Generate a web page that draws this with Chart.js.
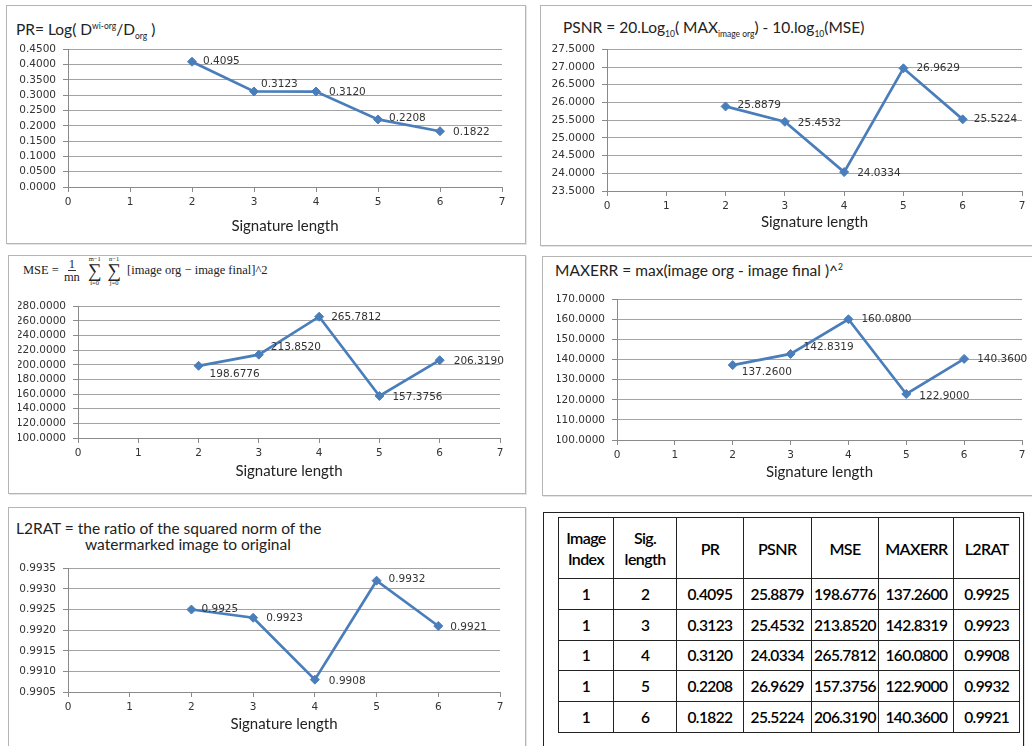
<!DOCTYPE html>
<html>
<head>
<meta charset="utf-8">
<script src="https://cdn.jsdelivr.net/npm/chart.js@4.4.0/dist/chart.umd.min.js"></script>
<style>
  body { margin: 0; width: 1032px; height: 746px; background: #fff; position: relative; overflow: hidden; font-family: Lato, "Open Sans", sans-serif; color: #222; }
  .panel { position: absolute; border: 1px solid #b5b5b5; box-sizing: border-box; background: #fff; box-shadow: 1px 1px 0 #e4e4e4; }
  .box { position: absolute; }
  .ttl { position: absolute; font-size: 15.5px; line-height: 16px; white-space: nowrap; color: #222; }
  .ttl sub, .ttl sup { font-size: 8.5px; line-height: 0; }
  .formula { position: absolute; font-family: "Liberation Serif", serif; font-size: 12.5px; color: #222; display: flex; align-items: center; white-space: nowrap; }
  .frac { display: inline-flex; flex-direction: column; align-items: center; margin: 0 5px; line-height: 12px; }
  .frac span:first-child { border-bottom: 1px solid #333; padding: 0 1px; }
  .sum { display: inline-flex; flex-direction: column; align-items: center; margin: 0 3px; line-height: 7px; }
  .sum small { font-size: 6.5px; }
  .sum b { font-weight: normal; font-size: 19px; line-height: 17px; }
  table { position: absolute; border-collapse: collapse; font-family: Lato, sans-serif; font-size: 15.5px; letter-spacing: -0.6px; color: #000; }
  td, th { border: 1.5px solid #222; text-align: center; padding: 0; font-weight: 600; }
  th { font-weight: 600; font-size: 16px; line-height: 21px; }
</style>
</head>
<body>

<div class="panel" style="left:6px; top:5px; width:520px; height:239px;"></div>
<div class="panel" style="left:540px; top:5px; width:500px; height:241px;"></div>
<div class="panel" style="left:8px; top:255px; width:518px; height:239px;"></div>
<div class="panel" style="left:542px; top:256px; width:500px; height:240px;"></div>
<div class="panel" style="left:8px; top:507px; width:518px; height:250px;"></div>
<div class="panel" style="left:543px; top:512px; width:481px; height:250px; border-color:#222;"></div>

<div class="ttl" style="left:16px; top:21px;">PR= Log( D<sup>wi-org</sup>/D<sub>org</sub> )</div>
<div class="ttl" style="left:563px; top:19px;">PSNR = 20.Log<sub>10</sub>( MAX<sub>image org</sub>) - 10.log<sub>10</sub>(MSE)</div>
<div class="formula" style="left:23px; top:256px; height:28px;">
  MSE =
  <span class="frac"><span>1</span><span>mn</span></span>
  <span class="sum"><small>m−1</small><b>∑</b><small>i=0</small></span>
  <span class="sum"><small>n−1</small><b>∑</b><small>j=0</small></span>
  &nbsp;[image org − image final]^2
</div>
<div class="ttl" style="left:555px; top:262px;">MAXERR = max(image org - image final )^<sup>2</sup></div>
<div class="ttl" style="left:16px; top:520px;">L2RAT = the ratio of the squared norm of the</div>
<div class="ttl" style="left:85px; top:536px;">watermarked image to original</div>

<table id="tbl" style="left:558px; top:517px; width:462px; height:216px;"></table>

<script>
// data
const imageIndex = [1, 1, 1, 1, 1];
const sigLength = [2, 3, 4, 5, 6];
const prValues = [0.4095, 0.3123, 0.3120, 0.2208, 0.1822];
const psnrValues = [25.8879, 25.4532, 24.0334, 26.9629, 25.5224];
const mseValues = [198.6776, 213.8520, 265.7812, 157.3756, 206.3190];
const maxerrValues = [137.2600, 142.8319, 160.0800, 122.9000, 140.3600];
const l2ratValues = [0.9925, 0.9923, 0.9908, 0.9932, 0.9921];
const xTicks = [0, 1, 2, 3, 4, 5, 6, 7];

const tickFont = { family: 'DejaVu Sans', size: 10.5 };
const lineColor = '#4a7ebb';

// labels next to each point
const pointLabels = {
  id: 'pointLabels',
  afterDatasetsDraw(chart, args, opts) {
    const ctx = chart.ctx;
    const meta = chart.getDatasetMeta(0);
    const data = chart.data.datasets[0].data;
    ctx.save();
    ctx.font = '10.5px "DejaVu Sans"';
    ctx.fillStyle = '#333';
    ctx.textBaseline = 'middle';
    ctx.textAlign = 'left';
    meta.data.forEach((pt, i) => {
      const off = opts.offsets[i] || [12, 0];
      ctx.fillText(data[i].y.toFixed(4), pt.x + off[0], pt.y + off[1]);
    });
    ctx.restore();
  }
};

function makeChart(plot, xH, values, yMin, yMax, yStep, offsets) {
  const yW = 60, padT = 10, padR = 10;
  const left = plot.l - yW, top = plot.t - padT;
  const box = document.createElement('div');
  box.className = 'box';
  box.style.left = left + 'px';
  box.style.top = top + 'px';
  box.style.width = (plot.r + padR - left) + 'px';
  box.style.height = (plot.b + xH - top) + 'px';
  const canvas = document.createElement('canvas');
  box.appendChild(canvas);
  document.body.appendChild(box);

  return new Chart(canvas, {
    type: 'line',
    data: {
      datasets: [{
        data: sigLength.map((x, i) => ({ x: x, y: values[i] })),
        borderColor: lineColor,
        backgroundColor: lineColor,
        borderWidth: 2.7,
        pointStyle: 'rectRot',
        pointRadius: 4.5,
        pointBorderWidth: 1,
        tension: 0
      }]
    },
    options: {
      responsive: true,
      maintainAspectRatio: false,
      animation: false,
      layout: { padding: { top: padT, right: padR, left: 0, bottom: 0 } },
      plugins: {
        legend: { display: false },
        tooltip: { enabled: false },
        pointLabels: { offsets: offsets }
      },
      scales: {
        x: {
          type: 'linear',
          min: xTicks[0],
          max: xTicks[xTicks.length - 1],
          afterBuildTicks: (scale) => { scale.ticks = xTicks.map(v => ({ value: v })); },
          afterFit: (scale) => { scale.height = xH; },
          grid: { drawOnChartArea: false, drawTicks: true, tickLength: 5, color: '#8a8a8a' },
          border: { color: '#8a8a8a', width: 1 },
          ticks: { font: tickFont, color: '#333', padding: 4, maxRotation: 0, autoSkip: false },
          title: { display: true, text: 'Signature length', font: { family: 'Lato', size: 15 }, color: '#222', padding: { top: 0, bottom: 0 } }
        },
        y: {
          min: yMin,
          max: yMax,
          afterFit: (scale) => { scale.width = yW; },
          ticks: { stepSize: yStep, autoSkip: false, font: tickFont, color: '#333', padding: 7, callback: v => v.toFixed(4) },
          grid: { color: '#a3a3a3', tickLength: 5, tickColor: '#8a8a8a' },
          border: { color: '#8a8a8a', width: 1 }
        }
      }
    },
    plugins: [pointLabels]
  });
}

makeChart({ l: 68, t: 46, r: 502, b: 187 }, 48, prValues, 0, 0.45, 0.05,
  [[11, 0], [7, -7], [13, 1], [11, -1], [13, 1]]);
makeChart({ l: 607, t: 46, r: 1022, b: 191 }, 40, psnrValues, 23.5, 27.5, 0.5,
  [[12, -1], [13, 1], [13, 1], [13, 0], [11, 0]]);
makeChart({ l: 78, t: 303, r: 500, b: 438 }, 42, mseValues, 100, 280, 20,
  [[11, 8], [12, -7], [12, 1], [13, 1], [14, 1]]);
makeChart({ l: 617, t: 296, r: 1022, b: 440 }, 41, maxerrValues, 100, 170, 10,
  [[9, 7], [13, -7], [13, 0], [13, 2], [13, 0]]);
makeChart({ l: 68, t: 565, r: 500, b: 692 }, 41, l2ratValues, 0.9905, 0.9935, 0.0005,
  [[10, 0], [13, 0], [14, 2], [12, -1], [12, 1]]);

// table of values
const tbl = document.getElementById('tbl');
const colWidths = [55, 64, 67, 68, 67, 75, 66];
let html = '<tr style="height:61px">';
['Image<br>Index', 'Sig.<br>length', 'PR', 'PSNR', 'MSE', 'MAXERR', 'L2RAT'].forEach((h, i) => {
  html += `<th style="width:${colWidths[i]}px">${h}</th>`;
});
html += '</tr>';
sigLength.forEach((s, i) => {
  html += '<tr>';
  [imageIndex[i], s, prValues[i].toFixed(4), psnrValues[i].toFixed(4), mseValues[i].toFixed(4),
   maxerrValues[i].toFixed(4), l2ratValues[i].toFixed(4)].forEach(v => { html += `<td>${v}</td>`; });
  html += '</tr>';
});
tbl.innerHTML = html;
</script>
</body>
</html>
